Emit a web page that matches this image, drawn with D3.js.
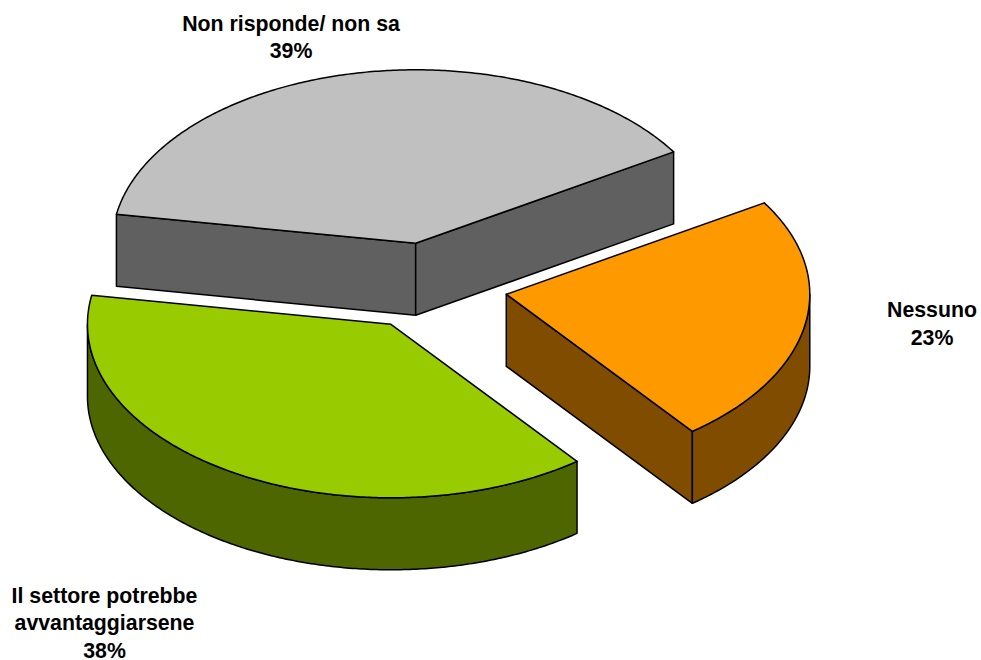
<!DOCTYPE html>
<html>
<head>
<meta charset="utf-8">
<script src="https://cdn.jsdelivr.net/npm/d3@7"></script>
<style>
  html, body { margin: 0; padding: 0; background: #fff; }
  svg { display: block; }
  text { font-family: "Liberation Sans", Arial, sans-serif; font-weight: bold; font-size: 21.3px; fill: #000; }
</style>
</head>
<body>
<svg id="chart"></svg>
<script>
// values
const categories = ["Non risponde/ non sa", "Nessuno", "Il settore potrebbe avvantaggiarsene"];
const values = [38.5, 23.33, 38.17];
const topColors = ["#c0c0c0", "#ff9900", "#99cc00"];
const sideColors = ["#606060", "#804d00", "#4d6600"];
const labelLines = [["Non risponde/ non sa"], ["Nessuno"], ["Il settore potrebbe", "avvantaggiarsene"]];

const width = 981, height = 660;
const cx = 430.5, cy = 286.5;  // pie centre before exploding
const rx = 303.5, ry = 173.5;  // ellipse of the top face
const depth = 72;
const explode = 77 / rx;       // share of the radius
const labelPos = [[291, 30.5], [932, 317], [104.5, 602.5]];
const labelStep = 27.5;

const svg = d3.select("#chart").attr("width", width).attr("height", height);

const pie = d3.pie().sort(null)
    .startAngle(-80.4 * Math.PI / 180)
    .endAngle(279.6 * Math.PI / 180);

const arcs = pie(values);

const xScale = d3.scaleLinear().domain([-1, 1]).range([cx - rx, cx + rx]);
const yScale = d3.scaleLinear().domain([-1, 1]).range([cy - ry, cy + ry]);

// d3 pie angles: 0 at 12 o'clock, clockwise
const unit = (a, r) => [r * Math.sin(a), -r * Math.cos(a)];
const line = d3.line().curve(d3.curveLinear);

function angleSteps(a0, a1) {
    const n = Math.max(2, Math.ceil((a1 - a0) / 0.01));
    return d3.range(n + 1).map(i => a0 + (a1 - a0) * i / n);
}

arcs.forEach((d, i) => {
    const mid = (d.startAngle + d.endAngle) / 2;
    const [ox, oy] = unit(mid, explode);
    const pt = (a, r, drop) => {
        const [ux, uy] = unit(a, r);
        return [xScale(ux + ox), yScale(uy + oy) + drop];
    };

    const g = svg.append("g").attr("class", "slice");
    const sideStyle = p => p.attr("fill", sideColors[i]).attr("stroke", "#000")
        .attr("stroke-width", 1.5).attr("stroke-linejoin", "round");

    // cut faces, only those turned to the viewer
    if (Math.sin(d.startAngle) < 0) {
        g.append("path").call(sideStyle).attr("d", line([
            pt(d.startAngle, 0, 0), pt(d.startAngle, 1, 0), pt(d.startAngle, 1, depth), pt(d.startAngle, 0, depth)
        ]) + "Z");
    }
    if (Math.sin(d.endAngle) > 0) {
        g.append("path").call(sideStyle).attr("d", line([
            pt(d.endAngle, 0, 0), pt(d.endAngle, 1, 0), pt(d.endAngle, 1, depth), pt(d.endAngle, 0, depth)
        ]) + "Z");
    }

    // outer rim, front half only
    const a0 = Math.max(d.startAngle, Math.PI / 2);
    const a1 = Math.min(d.endAngle, 3 * Math.PI / 2);
    if (a1 > a0) {
        const steps = angleSteps(a0, a1);
        const rim = steps.map(a => pt(a, 1, 0))
            .concat(steps.slice().reverse().map(a => pt(a, 1, depth)));
        g.append("path").call(sideStyle).attr("d", line(rim) + "Z");
    }

    // top face
    const top = [pt(d.startAngle, 0, 0)].concat(angleSteps(d.startAngle, d.endAngle).map(a => pt(a, 1, 0)));
    g.append("path")
        .attr("d", line(top) + "Z")
        .attr("fill", topColors[i])
        .attr("stroke", "#000")
        .attr("stroke-width", 1.5)
        .attr("stroke-linejoin", "round");
});

// labels
arcs.forEach((d, i) => {
    const t = svg.append("text")
        .attr("text-anchor", "middle")
        .attr("x", labelPos[i][0])
        .attr("y", labelPos[i][1]);
    labelLines[i].concat(d3.format(".0f")(d.value) + "%").forEach((s, j) => {
        t.append("tspan")
            .attr("x", labelPos[i][0])
            .attr("dy", j ? labelStep : 0)
            .text(s);
    });
});
</script>
</body>
</html>
